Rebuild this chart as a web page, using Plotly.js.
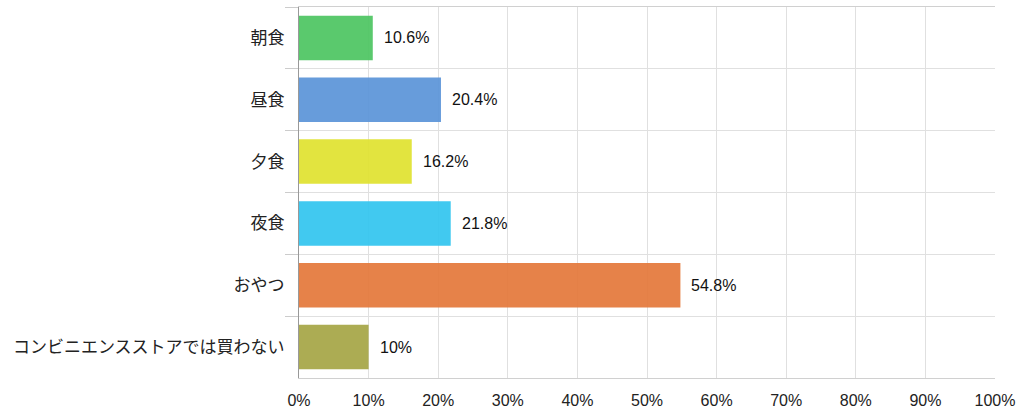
<!DOCTYPE html>
<html>
<head>
<meta charset="utf-8">
<script src="https://cdn.plot.ly/plotly-3.0.1.min.js"></script>
<style>
  html, body { margin: 0; padding: 0; background: #fff; }
  #plot { width: 1024px; height: 418px; }
</style>
</head>
<body>
<div id="plot"></div>
<script>
var categories = ['朝食', '昼食', '夕食', '夜食', 'おやつ', 'コンビニエンスストアでは買わない'];
var values = [10.6, 20.4, 16.2, 21.8, 54.8, 10];
var colors = ['#4cc461', '#5a94d8', '#e0e22f', '#31c4ef', '#e4773a', '#a5a544'];
var xTicks = [0, 10, 20, 30, 40, 50, 60, 70, 80, 90, 100];

var font = 'Liberation Sans, Arial, "Noto Sans CJK JP", sans-serif';

var trace = {
    type: 'bar',
    orientation: 'h',
    x: values,
    y: categories,
    marker: { color: colors, opacity: 0.92, line: { width: 0 } },
    width: 0.72,
    hoverinfo: 'none'
};

var annotations = values.map(function (v, i) {
    return {
        x: v,
        y: categories[i],
        xref: 'x',
        yref: 'y',
        text: v + '%',
        showarrow: false,
        xanchor: 'left',
        xshift: 9,
        font: { family: font, size: 16, color: '#111' }
    };
});

var layout = {
    width: 1024,
    height: 418,
    margin: { l: 299, r: 29, t: 7, b: 40 },
    paper_bgcolor: '#fff',
    plot_bgcolor: '#fff',
    showlegend: false,
    font: { family: font, size: 16, color: '#222' },
    xaxis: {
        range: [0, 100],
        tickvals: xTicks,
        ticktext: xTicks.map(function (t) { return t + '%'; }),
        showgrid: true,
        gridcolor: '#e0e0e0',
        gridwidth: 1,
        zeroline: false,
        showline: true,
        linecolor: '#d0d0d0',
        mirror: true,
        ticks: '',
        ticklabelstandoff: 8,
        tickfont: { family: font, size: 16, color: '#222' },
        fixedrange: true
    },
    yaxis: {
        type: 'category',
        autorange: 'reversed',
        tickson: 'boundaries',
        ticks: 'outside',
        ticklen: 13,
        tickwidth: 1,
        tickcolor: '#cccccc',
        showgrid: true,
        gridcolor: '#e0e0e0',
        showline: true,
        linecolor: '#999',
        linewidth: 1,
        zeroline: false,
        ticklabelstandoff: 10,
        tickfont: { family: font, size: 17, color: '#222' },
        fixedrange: true
    },
    annotations: annotations
};

Plotly.newPlot('plot', [trace], layout, { displayModeBar: false, staticPlot: true });
</script>
</body>
</html>
